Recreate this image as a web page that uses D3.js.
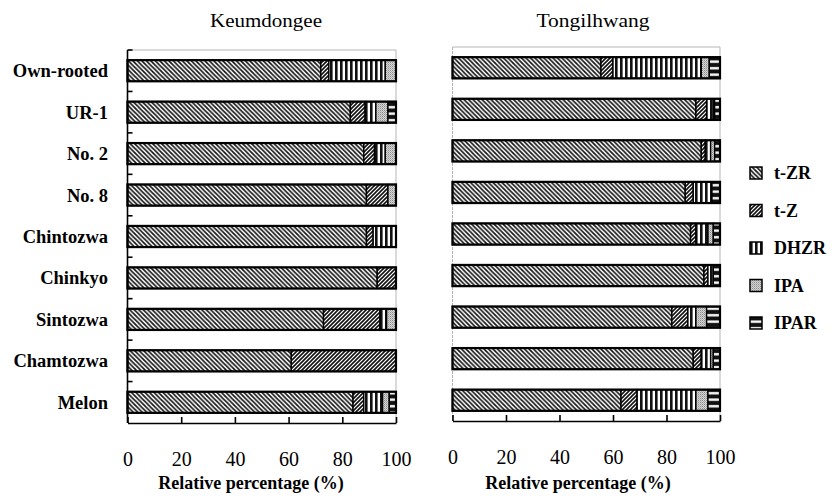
<!DOCTYPE html>
<html>
<head>
<meta charset="utf-8">
<script src="https://cdn.jsdelivr.net/npm/d3@7"></script>
<style>
  html, body { margin: 0; padding: 0; background: #fff; }
  svg { display: block; }
</style>
</head>
<body>
<svg id="chart" width="840" height="502"></svg>
<script>
// ---- data ----
const categories = ["Own-rooted", "UR-1", "No. 2", "No. 8", "Chintozwa", "Chinkyo", "Sintozwa", "Chamtozwa", "Melon"];
const seriesKeys = ["t-ZR", "t-Z", "DHZR", "IPA", "IPAR"];
const panelTitles = ["Keumdongee", "Tongilhwang"];
const xTicks = [0, 20, 40, 60, 80, 100];
const xTitle = "Relative percentage (%)";

// Keumdongee
const keumTZR  = [72, 83, 88, 89, 89, 93, 73, 61, 84];
const keumTZ   = [3, 5.5, 4, 8, 2.5, 7, 21, 39, 4];
const keumDHZR = [21, 4, 4, 0, 8.5, 0, 2.5, 0, 7];
const keumIPA  = [4, 4.5, 4, 3, 0, 0, 3.5, 0, 2.5];
const keumIPAR = [0, 3, 0, 0, 0, 0, 0, 0, 2.5];
// Tongilhwang
const tongTZR  = [55.5, 91, 93, 87, 89, 94, 82, 90, 63];
const tongTZ   = [4.5, 4, 1.5, 3, 2, 1.5, 6, 3, 6];
const tongDHZR = [33, 2.5, 2, 7, 4.5, 2, 3, 3.5, 22];
const tongIPA  = [3, 0.5, 1.5, 0, 2, 0, 4, 1, 4.5];
const tongIPAR = [4, 2, 2, 3, 2.5, 2.5, 5, 2.5, 4.5];

function buildRows(a, b, c, d, e) {
  return categories.map((cat, i) => ({
    cat, "t-ZR": a[i], "t-Z": b[i], "DHZR": c[i], "IPA": d[i], "IPAR": e[i]
  }));
}
const keumRows = buildRows(keumTZR, keumTZ, keumDHZR, keumIPA, keumIPAR);
const tongRows = buildRows(tongTZR, tongTZ, tongDHZR, tongIPA, tongIPAR);

// ---- drawing ----
const svg = d3.select("#chart");
const defs = svg.append("defs");
const serif = "'Liberation Serif', 'Times New Roman', serif";

// patterns
const pTZR = defs.append("pattern").attr("id", "p-tzr").attr("patternUnits", "userSpaceOnUse")
  .attr("width", 4.5).attr("height", 4.5);
pTZR.append("rect").attr("width", 4.5).attr("height", 4.5).attr("fill", "#fff");
pTZR.append("path").attr("d", "M-1,-1 L5.5,5.5 M-1,3.5 L1,5.5 M3.5,-1 L5.5,1")
  .attr("stroke", "#111").attr("stroke-width", 1.6);

const pTZ = defs.append("pattern").attr("id", "p-tz").attr("patternUnits", "userSpaceOnUse")
  .attr("width", 4).attr("height", 4);
pTZ.append("rect").attr("width", 4).attr("height", 4).attr("fill", "#fff");
pTZ.append("path").attr("d", "M-1,5 L5,-1 M-1,1 L1,-1 M3,5 L5,3")
  .attr("stroke", "#111").attr("stroke-width", 1.6);

const pDH = defs.append("pattern").attr("id", "p-dhzr").attr("patternUnits", "userSpaceOnUse")
  .attr("width", 5).attr("height", 5);
pDH.append("rect").attr("width", 5).attr("height", 5).attr("fill", "#fff");
pDH.append("rect").attr("x", 0).attr("width", 2.6).attr("height", 5).attr("fill", "#111");

const pIPA = defs.append("pattern").attr("id", "p-ipa").attr("patternUnits", "userSpaceOnUse")
  .attr("width", 2).attr("height", 2);
pIPA.append("rect").attr("width", 2).attr("height", 2).attr("fill", "#d6d6d6");
pIPA.append("rect").attr("width", 1).attr("height", 1).attr("fill", "#8a8a8a");
pIPA.append("rect").attr("x", 1).attr("y", 1).attr("width", 1).attr("height", 1).attr("fill", "#b0b0b0");

const pIPAR = defs.append("pattern").attr("id", "p-ipar").attr("patternUnits", "userSpaceOnUse")
  .attr("width", 6).attr("height", 6.5);
pIPAR.append("rect").attr("width", 6).attr("height", 6.5).attr("fill", "#111");
pIPAR.append("rect").attr("y", 2).attr("width", 6).attr("height", 2.4).attr("fill", "#fff");

const fills = { "t-ZR": "url(#p-tzr)", "t-Z": "url(#p-tz)", "DHZR": "url(#p-dhzr)", "IPA": "url(#p-ipa)", "IPAR": "url(#p-ipar)" };

const stack = d3.stack().keys(seriesKeys);

const panels = [
  { rows: keumRows, title: panelTitles[0], xr: [127.5, 396], yr: [50, 423], titleX: 266, titleLen: 112, yAxis: true, axTitleX: 251 },
  { rows: tongRows, title: panelTitles[1], xr: [452.5, 720], yr: [47, 421], titleX: 593, titleLen: 113, yAxis: false, axTitleX: 578 }
];

panels.forEach(p => {
  const x = d3.scaleLinear().domain([0, 100]).range(p.xr);
  const y = d3.scaleBand().domain(categories).range(p.yr).paddingInner(0.49).paddingOuter(0.245);
  const g = svg.append("g");

  // light frame (top, right, and left for panel without y axis)
  const frame = g.append("g").attr("stroke", "#b5b5b5").attr("stroke-width", 1).attr("fill", "none");
  frame.append("line").attr("x1", p.xr[0]).attr("x2", p.xr[1]).attr("y1", p.yr[0]).attr("y2", p.yr[0]);
  frame.append("line").attr("x1", p.xr[1]).attr("x2", p.xr[1]).attr("y1", p.yr[0]).attr("y2", p.yr[1]);
  if (!p.yAxis) {
    frame.append("line").attr("x1", p.xr[0]).attr("x2", p.xr[0]).attr("y1", p.yr[0]).attr("y2", p.yr[1])
      .attr("stroke-dasharray", "3,1");
  }

  // stacked bars
  const series = stack(p.rows);
  series.forEach(s => {
    g.append("g").selectAll("rect")
      .data(s.filter(d => d[1] - d[0] > 0))
      .join("rect")
      .attr("x", d => x(d[0]))
      .attr("y", d => y(d.data.cat))
      .attr("width", d => x(d[1]) - x(d[0]))
      .attr("height", y.bandwidth())
      .attr("fill", fills[s.key])
      .attr("stroke", "#000")
      .attr("stroke-width", 1.4);
  });
  // bar outlines
  g.append("g").selectAll("rect").data(p.rows).join("rect")
    .attr("x", x(0)).attr("y", d => y(d.cat))
    .attr("width", x(100) - x(0)).attr("height", y.bandwidth())
    .attr("fill", "none").attr("stroke", "#000").attr("stroke-width", 2.2);

  // x axis
  const xa = g.append("g").attr("transform", `translate(0,${p.yr[1]})`)
    .call(d3.axisBottom(x).tickValues(xTicks).tickSizeInner(-6).tickSizeOuter(0).tickPadding(29));
  xa.select(".domain").attr("stroke", "#000").attr("stroke-width", 1.6);
  xa.selectAll(".tick line").attr("stroke", "#000").attr("stroke-width", 1.6);
  xa.selectAll(".tick text").attr("font-family", serif).attr("font-size", 20).attr("fill", "#000");

  // x axis title
  g.append("text").attr("x", p.axTitleX).attr("y", 489).attr("text-anchor", "middle")
    .attr("font-family", serif).attr("font-weight", "bold").attr("font-size", 18)
    .text(xTitle);

  // panel title
  g.append("text").attr("x", p.titleX).attr("y", 27).attr("text-anchor", "middle")
    .attr("font-family", serif).attr("font-size", 19)
    .attr("textLength", p.titleLen).attr("lengthAdjust", "spacingAndGlyphs")
    .text(p.title);

  if (p.yAxis) {
    const ya = g.append("g").attr("stroke", "#000");
    ya.append("line").attr("x1", p.xr[0]).attr("x2", p.xr[0]).attr("y1", p.yr[0]).attr("y2", p.yr[1])
      .attr("stroke-width", 1.6);
    const bounds = categories.map(c => y(c) - y.step() * y.paddingOuter());
    ya.selectAll("line.tk").data(bounds).join("line").attr("class", "tk")
      .attr("x1", p.xr[0]).attr("x2", p.xr[0] + 5).attr("y1", d => d).attr("y2", d => d)
      .attr("stroke-width", 1.6);
    g.append("g").selectAll("text").data(categories).join("text")
      .attr("x", 108).attr("y", d => y(d) + y.bandwidth() / 2)
      .attr("dy", "0.35em").attr("text-anchor", "end")
      .attr("font-family", serif).attr("font-weight", "bold").attr("font-size", 18.5)
      .text(d => d);
  }
});

// legend
const legendY = d3.scalePoint().domain(seriesKeys).range([173, 323]);
const lg = svg.append("g");
seriesKeys.forEach(k => {
  const cy = legendY(k);
  lg.append("rect").attr("x", 750).attr("y", cy - 6).attr("width", 12).attr("height", 12)
    .attr("fill", fills[k]).attr("stroke", "#000").attr("stroke-width", 1.5);
  lg.append("text").attr("x", 774).attr("y", cy).attr("dy", "0.35em")
    .attr("font-family", serif).attr("font-weight", "bold").attr("font-size", 18)
    .text(k);
});
</script>
</body>
</html>
